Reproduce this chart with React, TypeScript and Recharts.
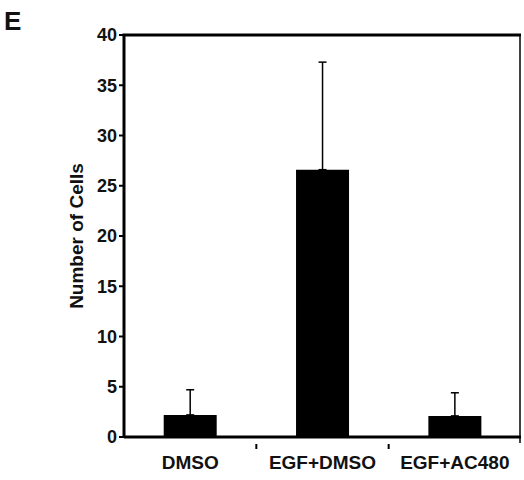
import { BarChart, Bar, XAxis, YAxis, ErrorBar } from "recharts";

const categories = ["DMSO", "EGF+DMSO", "EGF+AC480"];
const cellCounts = [2.2, 26.6, 2.1];
const cellErrors = [2.5, 10.7, 2.3];
const yTicks = [0, 5, 10, 15, 20, 25, 30, 35, 40];

const data = categories.map((name, i) => ({
  name,
  cells: cellCounts[i],
  err: [0, cellErrors[i]],
}));

const font = "'Liberation Sans', Arial, sans-serif";

const W = 524;
const H = 480;
const margin = { top: 35, right: 3, bottom: 0, left: 0 };
const yAxisW = 124;
const xAxisH = 43;
const plotLeft = margin.left + yAxisW;
const plotTop = margin.top;

// category label, a small tick between groups, and the frame's top/right edges on the last band
function CategoryTick(props: any) {
  const { x, y, payload, index } = props;
  const half = payload?.offset ?? 0;
  const edge = x + half;
  const last = index === categories.length - 1;
  return (
    <g>
      {!last && <line x1={edge} x2={edge} y1={y - 1} y2={y + 4} stroke="#000" strokeWidth={2} />}
      {last && (
        <>
          <line x1={plotLeft - 1.5} x2={edge} y1={plotTop} y2={plotTop} stroke="#000" strokeWidth={3} />
          <line x1={edge - 1} x2={edge - 1} y1={plotTop} y2={y - 2} stroke="#000" strokeWidth={1.5} />
        </>
      )}
      <text x={x} y={y + 24} textAnchor="middle" fill="#111" fontSize={19} fontWeight={700} fontFamily={font}>
        {payload.value}
      </text>
    </g>
  );
}

export default function App() {
  return (
    <div style={{ position: "absolute", left: 0, top: 0, width: W, height: H, background: "#fff", fontFamily: font }}>
      <BarChart width={W} height={H} data={data} margin={margin} barCategoryGap="30%">
        <XAxis
          dataKey="name"
          height={xAxisH}
          tickLine={false}
          interval={0}
          axisLine={{ stroke: "#000", strokeWidth: 3 }}
          tick={<CategoryTick />}
        />
        <YAxis
          width={yAxisW}
          domain={[0, 40]}
          ticks={yTicks}
          interval={0}
          tickSize={5}
          tickLine={{ stroke: "#000", strokeWidth: 2 }}
          axisLine={{ stroke: "#000", strokeWidth: 3 }}
          tick={{ fill: "#111", fontSize: 18, fontWeight: 700, fontFamily: font }}
          label={{
            value: "Number of Cells",
            angle: -90,
            position: "insideLeft",
            dx: 71,
            style: { textAnchor: "middle", fill: "#111", fontSize: 19, fontWeight: 700, fontFamily: font },
          }}
        />
        <Bar dataKey="cells" fill="#000" isAnimationActive={false}>
          <ErrorBar dataKey="err" direction="y" width={4} stroke="#000" strokeWidth={1.5} />
        </Bar>
      </BarChart>
      <div style={{ position: "absolute", left: 4, top: 6, fontSize: 26, fontWeight: 700, color: "#111", lineHeight: "30px" }}>E</div>
    </div>
  );
}
